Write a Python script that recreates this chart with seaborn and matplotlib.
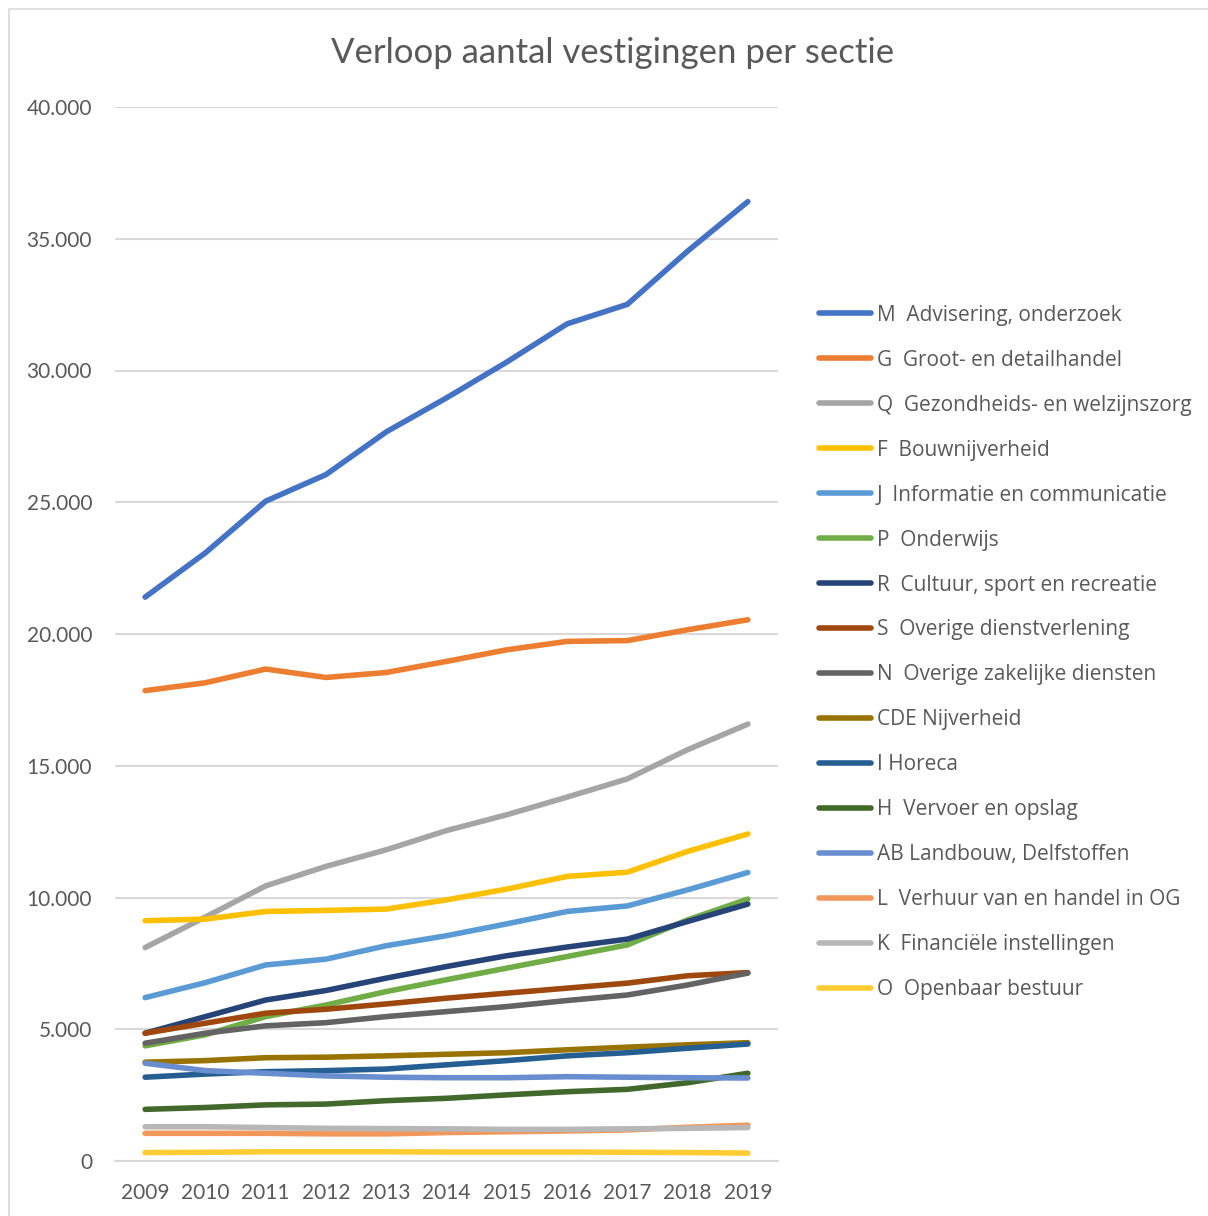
import numpy as np
import pandas as pd
import matplotlib
matplotlib.use('Agg')
import matplotlib.pyplot as plt
import matplotlib.ticker as ticker
import seaborn as sns

# jaren en secties
jaren = [2009, 2010, 2011, 2012, 2013, 2014, 2015, 2016, 2017, 2018, 2019]
secties = ['M  Advisering, onderzoek', 'G  Groot- en detailhandel',
           'Q  Gezondheids- en welzijnszorg', 'F  Bouwnijverheid',
           'J  Informatie en communicatie', 'P  Onderwijs',
           'R  Cultuur, sport en recreatie', 'S  Overige dienstverlening',
           'N  Overige zakelijke diensten', 'CDE Nijverheid', 'I Horeca',
           'H  Vervoer en opslag', 'AB Landbouw, Delfstoffen',
           'L  Verhuur van en handel in OG', 'K  Financiële instellingen',
           'O  Openbaar bestuur']

# aantal vestigingen per sectie
m_advies = [21400, 23080, 25040, 26050, 27670, 28960, 30320, 31770, 32510, 34530, 36410]
g_handel = [17850, 18150, 18670, 18350, 18540, 18960, 19400, 19720, 19750, 20160, 20540]
q_zorg = [8100, 9260, 10440, 11180, 11810, 12540, 13140, 13810, 14500, 15610, 16580]
f_bouw = [9120, 9180, 9470, 9510, 9560, 9910, 10320, 10800, 10960, 11750, 12410]
j_ict = [6200, 6770, 7440, 7660, 8170, 8550, 9000, 9470, 9680, 10290, 10950]
p_onderwijs = [4370, 4790, 5480, 5920, 6430, 6880, 7320, 7760, 8200, 9150, 9940]
r_cultuur = [4850, 5480, 6110, 6470, 6940, 7380, 7790, 8120, 8420, 9090, 9750]
s_overig = [4850, 5230, 5610, 5760, 5960, 6180, 6370, 6560, 6750, 7030, 7150]
n_zakelijk = [4470, 4850, 5130, 5250, 5480, 5670, 5860, 6090, 6300, 6680, 7130]
cde_nijverheid = [3750, 3810, 3920, 3940, 3990, 4050, 4110, 4220, 4320, 4410, 4490]
i_horeca = [3180, 3300, 3390, 3430, 3490, 3650, 3810, 3990, 4110, 4280, 4440]
h_vervoer = [1960, 2030, 2130, 2160, 2290, 2380, 2510, 2630, 2720, 2970, 3330]
ab_landbouw = [3710, 3430, 3330, 3230, 3180, 3160, 3160, 3200, 3180, 3160, 3150]
l_verhuur = [1050, 1050, 1050, 1030, 1030, 1080, 1110, 1140, 1180, 1280, 1360]
k_financieel = [1300, 1300, 1270, 1240, 1230, 1220, 1200, 1200, 1220, 1240, 1270]
o_bestuur = [320, 330, 350, 350, 350, 340, 340, 340, 330, 320, 300]

waarden = [m_advies, g_handel, q_zorg, f_bouw, j_ict, p_onderwijs, r_cultuur,
           s_overig, n_zakelijk, cde_nijverheid, i_horeca, h_vervoer,
           ab_landbouw, l_verhuur, k_financieel, o_bestuur]

kleuren = ['#4472C4', '#ED7D31', '#A5A5A5', '#FFC000', '#5B9BD5', '#70AD47',
           '#264478', '#9E480E', '#636363', '#997300', '#255E91', '#43682B',
           '#698ED0', '#F1975A', '#B7B7B7', '#FFCD33']

df = pd.DataFrame([(s, j, v) for s, serie in zip(secties, waarden)
                   for j, v in zip(jaren, serie)],
                  columns=['sectie', 'jaar', 'aantal'])

sns.set_style('white')
plt.rcParams['font.family'] = ['Lato', 'DejaVu Sans']
tekstkleur = '#595959'

fig = plt.figure(figsize=(12.08, 12.16), dpi=100)
W, H = 1208, 1216
ax = fig.add_axes([115 / W, (H - 1161) / H, (778 - 115) / W, (1161 - 107) / H])

sns.lineplot(data=df, x='jaar', y='aantal', hue='sectie', hue_order=secties,
             palette=kleuren, linewidth=4.0, ax=ax, legend=False,
             solid_capstyle='round')

ax.set_xlim(2008.5, 2019.5)
ax.set_ylim(0, 40000)
ax.set_xticks(jaren)
ax.set_yticks(range(0, 40001, 5000))
ax.yaxis.set_major_formatter(ticker.FuncFormatter(lambda v, p: f'{int(v):,}'.replace(',', '.')))
ax.grid(axis='y', color='#D9D9D9', linewidth=1.5)
ax.set_axisbelow(True)
for kant in ['top', 'right', 'left']:
    ax.spines[kant].set_visible(False)
ax.spines['bottom'].set_color('#D9D9D9')
ax.spines['bottom'].set_linewidth(1.5)
ax.tick_params(axis='both', length=0, labelsize=15, labelcolor=tekstkleur)
ax.tick_params(axis='y', pad=16.5)
ax.tick_params(axis='x', pad=16)
ax.set_xlabel('')
ax.set_ylabel('')

fig.text(613 / W, 1 - 53 / H, 'Verloop aantal vestigingen per sectie',
         ha='center', va='center', fontsize=25, color=tekstkleur)

# legenda
handles = [plt.Line2D([], [], color=k, linewidth=4.0) for k in kleuren]
leg = fig.legend(handles, secties, loc='upper left',
                 bbox_to_anchor=(800 / W, 1 - 286 / H), frameon=False,
                 handlelength=2.5, handletextpad=0.3, labelspacing=1.15,
                 prop={'family': ['Open Sans', 'DejaVu Sans'], 'size': 15})
for t in leg.get_texts():
    t.set_color(tekstkleur)

# rand om de grafiek
fig.patches.append(plt.Rectangle((9 / W, -0.1), 1.2, 1 - 9 / H + 0.1,
                                 transform=fig.transFigure, fill=False,
                                 edgecolor='#D9D9D9', linewidth=1.2))

fig.savefig('out.png', dpi=100)
